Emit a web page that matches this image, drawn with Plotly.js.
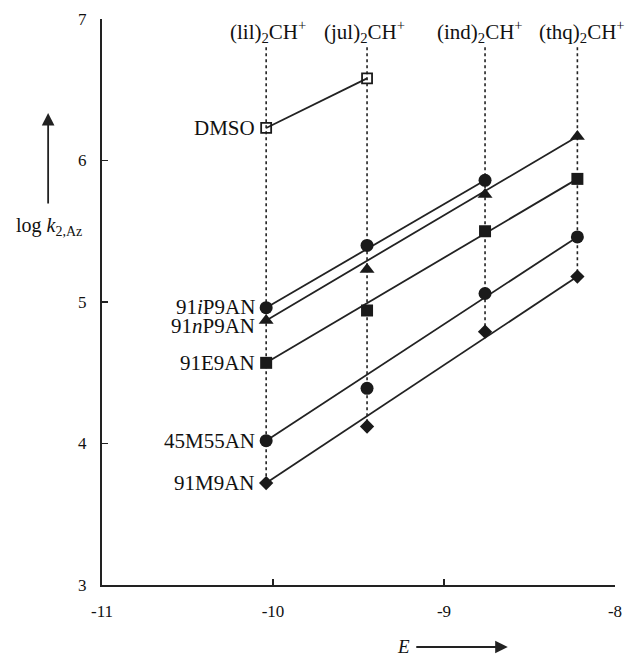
<!DOCTYPE html>
<html>
<head>
<meta charset="utf-8">
<script src="https://cdn.plot.ly/plotly-3.0.1.min.js"></script>
<style>html,body{margin:0;padding:0;background:#fff;}#chart{width:630px;height:656px;}</style>
</head>
<body>
<div id="chart"></div>
<script>
// Electrophiles (columns) and their E parameters
const electrophiles = ['(lil)<sub>2</sub>CH<sup>+</sup>', '(jul)<sub>2</sub>CH<sup>+</sup>', '(ind)<sub>2</sub>CH<sup>+</sup>', '(thq)<sub>2</sub>CH<sup>+</sup>'];
const E = [-10.04, -9.45, -8.76, -8.22];

// Nucleophile series: log k2,Az at each electrophile
const seriesNames = ['DMSO', '91<i>i</i>P9AN', '91<i>n</i>P9AN', '91E9AN', '45M55AN', '91M9AN'];
const logkDMSO = [6.23, 6.58, null, null];
const logkIP9AN = [4.96, 5.40, 5.86, null];
const logkNP9AN = [4.87, 5.23, 5.76, 6.17];
const logkE9AN = [4.57, 4.94, 5.50, 5.87];
const logkM55AN = [4.02, 4.39, 5.06, 5.46];
const logkM9AN = [3.72, 4.12, 4.79, 5.18];

// Correlation lines: start value (at first column) and end value (at last column with data)
const lineStart = [6.23, 4.96, 4.87, 4.57, 4.02, 3.72];
const lineEnd = [6.58, 5.86, 6.17, 5.87, 5.46, 5.18];

// Axis ticks
const xTicks = [-11, -10, -9, -8];
const xTickText = ['-11', '-10', '-9', '-8'];
const yTicks = [3, 4, 5, 6, 7];
const yTickText = ['3', '4', '5', '6', '7'];
const guideTop = 6.8;

const allSeries = [logkDMSO, logkIP9AN, logkNP9AN, logkE9AN, logkM55AN, logkM9AN];
const symbols = ['square-open', 'circle', 'triangle-up', 'square', 'circle', 'diamond'];
const sizes = [10, 13, 13, 12, 13, 11];
const labelShift = [0, 1, -6, 0, 0, 0];
const topShift = [2, -3, -5, 5];

const FONT = "'Liberation Serif', 'Times New Roman', serif";
const traces = [];

// dotted guide lines
E.forEach((e, i) => {
  const vals = allSeries.map(s => s[i]).filter(v => v !== null);
  traces.push({x: [e, e], y: [guideTop, Math.min(...vals)], mode: 'lines',
    line: {color: '#222', width: 1.6, dash: 'dot'}, hoverinfo: 'skip', showlegend: false});
});

// correlation lines
allSeries.forEach((s, k) => {
  let last = 0;
  s.forEach((v, i) => { if (v !== null) last = i; });
  traces.push({x: [E[0], E[last]], y: [lineStart[k], lineEnd[k]], mode: 'lines',
    line: {color: '#222', width: 1.8}, hoverinfo: 'skip', showlegend: false});
});

// markers
allSeries.forEach((s, k) => {
  traces.push({x: E, y: s, mode: 'markers', name: seriesNames[k], cliponaxis: false,
    marker: {symbol: symbols[k], size: sizes[k], color: '#1a1a1a',
      line: {color: '#1a1a1a', width: k === 0 ? 1.8 : 0}}, showlegend: false});
});

const annotations = [];
electrophiles.forEach((t, i) => {
  annotations.push({x: E[i], y: 6.91, xref: 'x', yref: 'y', text: t, showarrow: false,
    xanchor: 'center', yanchor: 'middle', xshift: topShift[i], font: {family: FONT, size: 21, color: '#111'}});
});
allSeries.forEach((s, k) => {
  annotations.push({x: E[0], y: s[0], xref: 'x', yref: 'y', text: seriesNames[k], showarrow: false,
    xanchor: 'right', yanchor: 'middle', xshift: -9, yshift: labelShift[k],
    font: {family: FONT, size: 21, color: '#111'}});
});
// y-axis title and arrow
annotations.push({x: -0.103, y: 0.633, xref: 'paper', yref: 'paper', text: 'log <i>k</i><sub>2,Az</sub>',
  showarrow: false, xanchor: 'center', yanchor: 'middle', font: {family: FONT, size: 20, color: '#111'}});
annotations.push({x: -0.105, y: 0.834, xref: 'paper', yref: 'paper', text: '', showarrow: true,
  ax: 0, ay: 92, arrowhead: 2, arrowsize: 1.4, arrowwidth: 1.8, arrowcolor: '#222'});
// x-axis title and arrow
annotations.push({x: 0.587, y: -0.1095, xref: 'paper', yref: 'paper', text: '<i>E</i>',
  showarrow: false, xanchor: 'center', yanchor: 'middle', font: {family: FONT, size: 19, color: '#111'}});
annotations.push({x: 0.791, y: -0.1095, xref: 'paper', yref: 'paper', text: '', showarrow: true,
  ax: -93, ay: 0, arrowhead: 2, arrowsize: 1.4, arrowwidth: 1.8, arrowcolor: '#222'});

const layout = {
  width: 630, height: 656,
  margin: {l: 102, r: 15, t: 19, b: 71},
  paper_bgcolor: '#fff', plot_bgcolor: '#fff',
  font: {family: FONT, color: '#111', size: 17},
  showlegend: false,
  xaxis: {range: [-11, -8], tickvals: xTicks, ticktext: xTickText, showgrid: false, zeroline: false,
    showline: true, linecolor: '#222', linewidth: 2, ticks: 'inside', ticklen: 6, tickwidth: 1.6,
    tickcolor: '#222', ticklabelstandoff: 10, tickfont: {family: FONT, size: 17}},
  yaxis: {range: [3, 7], tickvals: yTicks, ticktext: yTickText, showgrid: false, zeroline: false,
    showline: true, linecolor: '#222', linewidth: 2, ticks: 'inside', ticklen: 6, tickwidth: 1.6,
    tickcolor: '#222', ticklabelstandoff: 10, tickfont: {family: FONT, size: 17}},
  annotations: annotations
};

Plotly.newPlot('chart', traces, layout, {displayModeBar: false, staticPlot: true});
</script>
</body>
</html>
